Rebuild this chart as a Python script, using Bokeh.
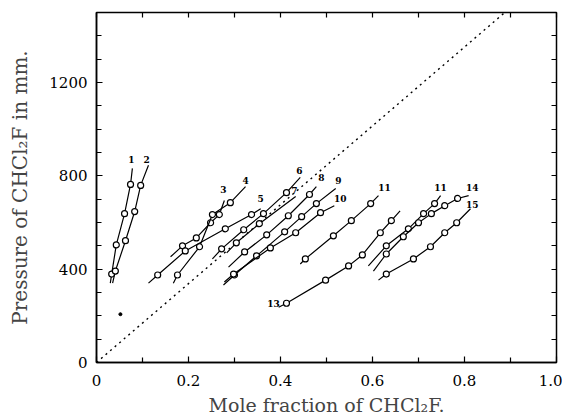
from bokeh.plotting import figure
from bokeh.models import Range1d, LinearAxis, FixedTicker
from bokeh.embed import file_html
from bokeh.resources import INLINE
from bokeh.core.properties import value

FONT = "DejaVu Serif"

# ---- data: measured points (mole fraction, pressure mm) ----
c1_x = [0.033, 0.043, 0.061, 0.074]
c1_y = [379, 504, 638, 763]
c1_ends_x = [0.030, 0.078]
c1_ends_y = [340, 832]

c2_x = [0.041, 0.063, 0.083, 0.096]
c2_y = [392, 522, 647, 759]
c2_ends_x = [0.035, 0.113]
c2_ends_y = [340, 845]

c3_x = [0.187, 0.217, 0.248, 0.267]
c3_y = [500, 534, 599, 634]
c3_ends_x = [0.161, 0.278]
c3_ends_y = [453, 694]

c4_x = [0.176, 0.224, 0.252, 0.291]
c4_y = [375, 496, 634, 685]
c4_ends_x = [0.167, 0.324]
c4_ends_y = [340, 754]

c5_x = [0.133, 0.193, 0.280, 0.337]
c5_y = [375, 478, 573, 634]
c5_ends_x = [0.113, 0.357]
c5_ends_y = [340, 659]

c6_x = [0.272, 0.320, 0.363, 0.413]
c6_y = [487, 569, 638, 728]
c6_ends_x = [0.252, 0.443]
c6_ends_y = [444, 793]

c7_x = [0.304, 0.354]
c7_y = [513, 595]
c7_ends_x = [0.283, 0.433]
c7_ends_y = [470, 711]

c8_x = [0.322, 0.370, 0.417, 0.463]
c8_y = [474, 547, 629, 720]
c8_ends_x = [0.287, 0.478]
c8_ends_y = [409, 754]

c9_x = [0.300, 0.348, 0.409, 0.446, 0.478]
c9_y = [375, 457, 560, 625, 681]
c9_ends_x = [0.276, 0.520]
c9_ends_y = [332, 746]

c10_x = [0.298, 0.378, 0.433, 0.487]
c10_y = [379, 491, 556, 642]
c10_ends_x = [0.278, 0.517]
c10_ends_y = [345, 672]

c11_x = [0.454, 0.515, 0.554, 0.596]
c11_y = [444, 543, 608, 681]
c11_ends_x = [0.443, 0.613]
c11_ends_y = [422, 715]

c12_x = [0.630, 0.678, 0.711, 0.735]
c12_y = [500, 573, 638, 681]
c12_ends_x = [0.591, 0.748]
c12_ends_y = [414, 715]

c13_x = [0.413, 0.498, 0.548, 0.578, 0.617, 0.641]
c13_y = [254, 353, 414, 461, 556, 608]
c13_ends_x = [0.396, 0.660]
c13_ends_y = [237, 650]

c14_x = [0.630, 0.667, 0.700, 0.728, 0.757, 0.785]
c14_y = [465, 539, 599, 638, 672, 703]
c14_ends_x = [0.602, 0.809]
c14_ends_y = [392, 715]

c15_x = [0.630, 0.689, 0.726, 0.757, 0.783]
c15_y = [379, 444, 496, 556, 599]
c15_ends_x = [0.613, 0.813]
c15_ends_y = [353, 659]

stray_x = [0.052]
stray_y = [207]

curve_labels = ["1", "2", "3", "4", "5", "6", "7", "8", "9", "10", "11", "11", "14", "15", "13"]
label_x = [0.076, 0.109, 0.276, 0.324, 0.357, 0.441, 0.430, 0.489, 0.526, 0.530, 0.626, 0.748, 0.817, 0.817, 0.385]
label_y = [853, 853, 728, 763, 690, 806, 724, 780, 763, 690, 737, 737, 733, 664, 237]

raoult_p0 = 1690  # ideal-solution (Raoult) line: p = x * p0
raoult_x = [0.0, 1.0]

x_major = [0, 0.2, 0.4, 0.6, 0.8, 1.0]
x_minor = [0.1, 0.3, 0.5, 0.7, 0.9]
y_major = [0, 400, 800, 1200]
y_minor = [100, 200, 300, 500, 600, 700, 900, 1000, 1100, 1300, 1400]

curves = [
    (c1_x, c1_y, c1_ends_x, c1_ends_y), (c2_x, c2_y, c2_ends_x, c2_ends_y),
    (c3_x, c3_y, c3_ends_x, c3_ends_y), (c4_x, c4_y, c4_ends_x, c4_ends_y),
    (c5_x, c5_y, c5_ends_x, c5_ends_y), (c6_x, c6_y, c6_ends_x, c6_ends_y),
    (c7_x, c7_y, c7_ends_x, c7_ends_y), (c8_x, c8_y, c8_ends_x, c8_ends_y),
    (c9_x, c9_y, c9_ends_x, c9_ends_y), (c10_x, c10_y, c10_ends_x, c10_ends_y),
    (c11_x, c11_y, c11_ends_x, c11_ends_y), (c12_x, c12_y, c12_ends_x, c12_ends_y),
    (c13_x, c13_y, c13_ends_x, c13_ends_y), (c14_x, c14_y, c14_ends_x, c14_ends_y),
    (c15_x, c15_y, c15_ends_x, c15_ends_y),
]

p = figure(width=562, height=418, x_range=Range1d(0, 1.0), y_range=Range1d(0, 1500),
           output_backend="svg", toolbar_location=None,
           min_border_left=96, min_border_right=6, min_border_top=12, min_border_bottom=56)
p.grid.visible = False
p.outline_line_color = "black"
p.outline_line_width = 1.5
p.background_fill_color = "white"
p.border_fill_color = "white"

# Raoult line
p.line(raoult_x, [v * raoult_p0 for v in raoult_x], line_color="black",
       line_width=1.4, line_dash="2 4")

for (px_, py_, ex, ey) in curves:
    lx = [ex[0]] + px_ + [ex[1]]
    ly = [ey[0]] + py_ + [ey[1]]
    p.line(lx, ly, line_color="black", line_width=1.2)
    p.scatter(px_, py_, size=6, marker="circle", fill_color="white",
              line_color="black", line_width=1.2)

p.scatter(stray_x, stray_y, size=3, marker="circle", fill_color="black", line_color="black")

p.text(label_x, label_y, text=curve_labels, text_font=value(FONT), text_font_size="9px",
       text_font_style="bold", text_align="center", text_baseline="bottom", text_color="black")


def style_axis(ax, ticks, minor, show_labels):
    if show_labels:
        ax.ticker = FixedTicker(ticks=ticks, minor_ticks=minor)
        ax.major_label_text_font = FONT
        ax.major_label_text_font_size = "15px"
        ax.major_label_text_color = "black"
    else:
        # mirrored ticks only: all ticks drawn as minor ticks, so no labels exist
        ax.ticker = FixedTicker(ticks=[], minor_ticks=sorted(ticks + minor))
        ax.axis_line_color = None
    ax.major_tick_in = 6
    ax.major_tick_out = 0
    ax.minor_tick_in = 5
    ax.minor_tick_out = 0
    ax.axis_line_width = 1.5
    ax.major_tick_line_width = 1.2
    ax.minor_tick_line_width = 1.2


xa = p.xaxis[0]
style_axis(xa, x_major, x_minor, True)
xa.major_label_overrides = {0: "0", 1: "1.0"}
xa.axis_label = "Mole fraction of CHCl\u2082F."
xa.axis_label_text_font = FONT
xa.axis_label_text_font_size = "19px"
xa.axis_label_text_font_style = "normal"
xa.axis_label_standoff = 5
xa.major_label_standoff = 12

ya = p.yaxis[0]
style_axis(ya, y_major, y_minor, True)
ya.axis_label = "Pressure of CHCl\u2082F in mm."
ya.axis_label_text_font = FONT
ya.axis_label_text_font_size = "20px"
ya.axis_label_text_font_style = "normal"
ya.axis_label_standoff = 14
ya.major_label_standoff = 9

top = LinearAxis()
style_axis(top, x_major, x_minor, False)
p.add_layout(top, "above")
right = LinearAxis()
style_axis(right, y_major, y_minor, False)
p.add_layout(right, "right")

open("out.html", "w").write(file_html(p, INLINE))
